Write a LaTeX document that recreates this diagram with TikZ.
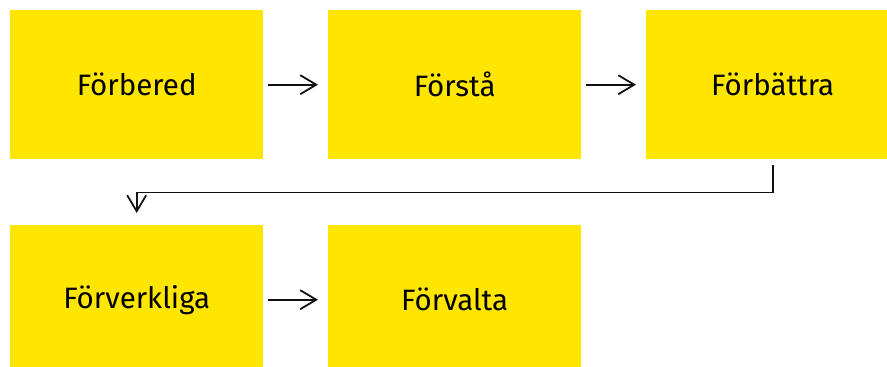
\documentclass[tikz,border=0pt]{standalone}
\usepackage{fontspec}
\setmainfont{Fira Sans}
\usetikzlibrary{arrows.meta}
\definecolor{eyyellow}{HTML}{FFE600}
\definecolor{linegray}{HTML}{111111}
\tikzset{
  stagebox/.style={fill=eyyellow, draw=none, minimum width=253pt, minimum height=149pt, inner sep=0pt, anchor=north west, font=\fontsize{29.5}{33}\selectfont, text=black},
  flow/.style={draw=linegray, line width=1.8pt, -{Straight Barb[length=16pt,width=19pt,line width=1.8pt]}}
}
\begin{document}
\begin{tikzpicture}[x=1pt,y=-1pt]
\useasboundingbox (0,0) rectangle (887,367);
\clip (0,0) rectangle (887,367);
\node[stagebox] (b1) at (10,10) {Förbered};
\node[stagebox] (b2) at (328,10) {Förstå};
\node[stagebox] (b3) at (646,10) {Förbättra};
\node[stagebox] (b4) at (10,225) {Förverkliga};
\node[stagebox] (b5) at (328,225) {Förvalta};
\draw[flow] ([xshift=5pt]b1.east) -- ([xshift=-10pt]b2.west);
\draw[flow] ([xshift=5pt]b2.east) -- ([xshift=-10pt]b3.west);
\draw[flow] ([xshift=5pt]b4.east) -- ([xshift=-10pt]b5.west);
\draw[flow] ([yshift=-6pt]b3.south) -- ++(0,27) -| ([yshift=12pt]b4.north);
\end{tikzpicture}
\end{document}
